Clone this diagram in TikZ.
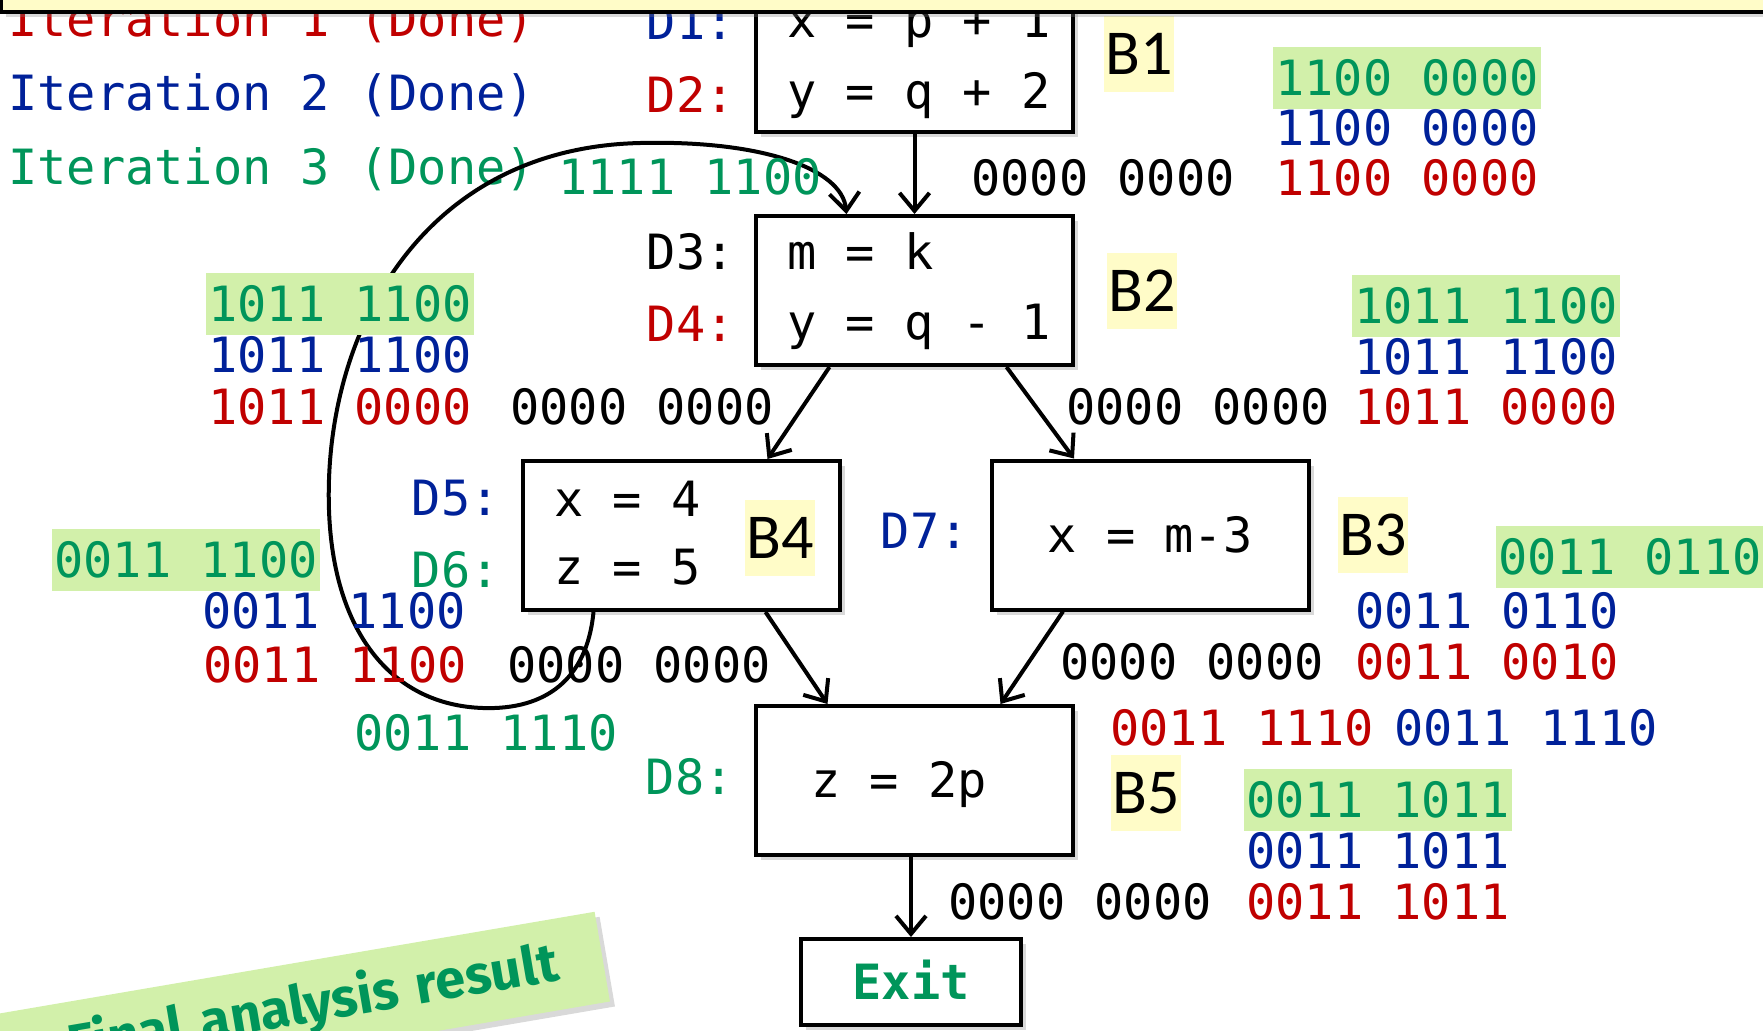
\documentclass[tikz,border=0pt]{standalone}
\usepackage{fontspec}
\setmonofont{DejaVu Sans Mono}
\newfontfamily\blockfont{Carlito}
\newfontfamily\notefont{Fira Sans}
\usepackage{xcolor}
\usetikzlibrary{arrows.meta,positioning,shadows}

\definecolor{itred}{HTML}{C00000}
\definecolor{itblue}{HTML}{002199}
\definecolor{itgreen}{HTML}{00955A}
\definecolor{hlgreen}{HTML}{D2F0AA}
\definecolor{hlyellow}{HTML}{FFFCC8}

\begin{document}
\begin{tikzpicture}[
    x=0.5pt, y=-0.5pt,
    font=\ttfamily\fontsize{24.3}{36}\selectfont,
    block/.style={rectangle, draw, line width=2pt, fill=white, minimum width=158.5pt, minimum height=74.5pt,
      drop shadow={shadow xshift=2.5pt, shadow yshift=-2.5pt, opacity=0.3}},
    stmt/.style={inner sep=0pt, text height=17.5pt, text depth=0pt, anchor=west},
    dlabel/.style={stmt, anchor=east},
    bits/.style={stmt},
    hlbits/.style={stmt, fill=hlgreen, text=itgreen, inner xsep=1pt, minimum height=31pt},
    blabel/.style={fill=hlyellow, inner sep=0pt, minimum width=35pt, minimum height=38pt, font=\blockfont\fontsize{32}{32}\selectfont},
    arrow/.style={-{Straight Barb[length=9pt,width=15pt]}, line width=2pt},
  ]
  \useasboundingbox (0,0) rectangle (1763,1030);

  % Result note
  \node[rotate=9.7, fill=hlgreen, text width=355pt, align=right, inner xsep=22.5pt, minimum height=45.5pt,
    text=itgreen, font=\notefont\bfseries\fontsize{27}{27}\selectfont,
    drop shadow={shadow xshift=2.5pt, shadow yshift=-2.5pt, opacity=0.3}] (result) at (208,1024) {Final analysis result};

  % Legend
  \node[stmt, text=itred] (iter1) at (8,19) {Iteration 1 (Done)};
  \node[stmt, text=itblue] (iter2) at (8,93) {Iteration 2 (Done)};
  \node[stmt, text=itgreen] (iter3) at (8,167) {Iteration 3 (Done)};

  % Basic blocks
  \node[block] (b1) at (914.5,57.5) {};
  \node[block] (b2) at (914.5,290.5) {};
  \node[block] (b4) at (681.5,535.5) {};
  \node[block] (b3) at (1150,535) {};
  \node[block] (b5) at (914.5,780.5) {};
  \node[block, minimum width=110pt, minimum height=43pt, text height=17.5pt, text depth=0pt, text=itgreen,
    font=\ttfamily\bfseries\fontsize{24.3}{24}\selectfont] (exit) at (911,982) {Exit};

  % Back edge B4 -> B2
  \draw[arrow] ([xshift=-44pt]b4.south) .. controls (587,680) and (545,710) .. (483,708)
    .. controls (390,705) and (333,630) .. (329,510)
    .. controls (323,335) and (420,148) .. (640,143)
    .. controls (760,140) and (842,168) .. ([xshift=-34pt]b2.north);

  % Edges
  \draw[arrow] (b1) -- (b2);
  \draw[arrow] ([xshift=-42.5pt]b2.south) -- ([xshift=43pt]b4.north);
  \draw[arrow] ([xshift=46pt]b2.south) -- ([xshift=-38pt]b3.north);
  \draw[arrow] ([xshift=42pt]b4.south) -- ([xshift=-43.5pt]b5.north);
  \draw[arrow] ([xshift=-43.5pt]b3.south) -- ([xshift=43pt]b5.north);
  \draw[arrow] (b5.south -| exit.north) -- (exit.north);

  % Statements
  \node[stmt] (s1) at (787,20) {x = p + 1};
  \node[stmt] (s2) at (787,91) {y = q + 2};
  \node[stmt] (s3) at (787,252) {m = k};
  \node[stmt] (s4) at (787,322) {y = q - 1};
  \node[stmt] (s5) at (554,499) {x = 4};
  \node[stmt] (s6) at (554,567) {z = 5};
  \node[stmt, anchor=center] (s7) at (1150,535) {x = m-3};
  \node[stmt] (s8) at (811,780) {z = 2p};

  % Definition labels
  \node[dlabel, text=itblue] (d1) at (735,22) {D1:};
  \node[dlabel, text=itred] (d2) at (735,95) {D2:};
  \node[dlabel] (d3) at (735,252) {D3:};
  \node[dlabel, text=itred] (d4) at (735,324) {D4:};
  \node[dlabel, text=itblue] (d5) at (500,498) {D5:};
  \node[dlabel, text=itgreen] (d6) at (500,570) {D6:};
  \node[dlabel, text=itblue] (d7) at (969,531) {D7:};
  \node[dlabel, text=itgreen] (d8) at (734,777) {D8:};

  % Block names
  \node[blabel, right=14.5pt of b1, yshift=2pt] (lb1) {B1};
  \node[blabel, right=16pt of b2] (lb2) {B2};
  \node[blabel, right=13.5pt of b3] (lb3) {B3};
  \node[blabel] (lb4) at (780,538) {B4};
  \node[blabel] (lb5) at (1146,793) {B5};

  % B1 sets
  \node[hlbits] (out1g) at (1273,78) {1100 0000};
  \node[bits, text=itblue] (out1b) at (1275,128) {1100 0000};
  \node[bits, text=itred] (out1r) at (1275,178) {1100 0000};
  \node[bits] (in1) at (971,178) {0000 0000};
  \node[bits, text=itgreen] (in2g) at (558,177) {1111 1100};

  % B2 sets
  \node[hlbits] (out2lg) at (206,304) {1011 1100};
  \node[bits, text=itblue] (out2lb) at (208,355) {1011 1100};
  \node[bits, text=itred] (out2lr) at (208,407) {1011 0000};
  \node[bits] (in4) at (510,407) {0000 0000};
  \node[hlbits] (out2rg) at (1352,306) {1011 1100};
  \node[bits, text=itblue] (out2rb) at (1354,357) {1011 1100};
  \node[bits, text=itred] (out2rr) at (1354,407) {1011 0000};
  \node[bits] (in3) at (1066,407) {0000 0000};

  % B4 sets
  \node[hlbits] (out4g) at (52,560) {0011 1100};
  \node[bits, text=itblue] (out4b) at (202,611) {0011 1100};
  \node[bits, text=itred] (out4r) at (203,665) {0011 1100};
  \node[bits] (in5l) at (507,665) {0000 0000};
  \node[bits, text=itgreen] (in5g) at (354,733) {0011 1110};

  % B3 sets
  \node[hlbits] (out3g) at (1496,557) {0011 0110};
  \node[bits, text=itblue] (out3b) at (1355,611) {0011 0110};
  \node[bits, text=itred] (out3r) at (1355,662) {0011 0010};
  \node[bits] (in5r) at (1060,662) {0000 0000};

  % B5 sets
  \node[bits, text=itred] (in5r1) at (1110,728) {0011 1110};
  \node[bits, text=itblue] (in5b2) at (1394,728) {0011 1110};
  \node[hlbits] (out5g) at (1244,800) {0011 1011};
  \node[bits, text=itblue] (out5b) at (1246,851) {0011 1011};
  \node[bits, text=itred] (out5r) at (1246,902) {0011 1011};
  \node[bits] (inexit) at (948,902) {0000 0000};

  % Title bar
  \draw[line width=2pt, fill=hlyellow, drop shadow={shadow xshift=2.5pt, shadow yshift=-2.5pt, opacity=0.3}]
    (1,-60) rectangle (1800,12);
\end{tikzpicture}
\end{document}
